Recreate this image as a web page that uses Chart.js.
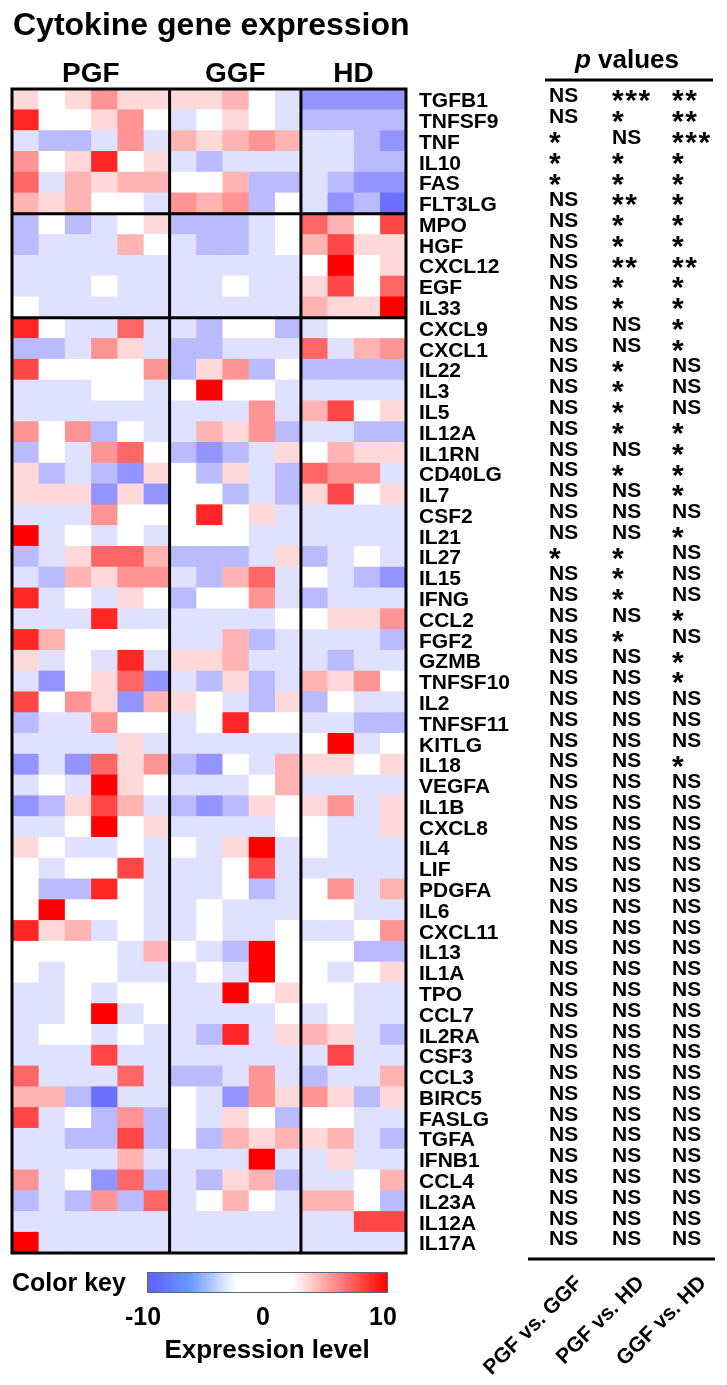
<!DOCTYPE html>
<html>
<head>
<meta charset="utf-8">
<script src="https://cdn.jsdelivr.net/npm/chart.js@4.4.0/dist/chart.umd.min.js"></script>
<style>
  html, body { margin: 0; padding: 0; background: #fff; }
</style>
</head>
<body>
<canvas id="js--chart--heat" width="727" height="1385"></canvas>
<script>
const genes = ['TGFB1','TNFSF9','TNF','IL10','FAS','FLT3LG','MPO','HGF','CXCL12','EGF','IL33',
  'CXCL9','CXCL1','IL22','IL3','IL5','IL12A','IL1RN','CD40LG','IL7','CSF2','IL21','IL27','IL15',
  'IFNG','CCL2','FGF2','GZMB','TNFSF10','IL2','TNFSF11','KITLG','IL18','VEGFA','IL1B','CXCL8',
  'IL4','LIF','PDGFA','IL6','CXCL11','IL13','IL1A','TPO','CCL7','IL2RA','CSF3','CCL3','BIRC5',
  'FASLG','TGFA','IFNB1','CCL4','IL23A','IL12A','IL17A'];

const groups = ['PGF', 'GGF', 'HD'];
const groupSizes = [6, 5, 4];
const rowBlocks = [6, 5]; // thick lines after these many rows

// expression level per sample (PGF: 6 samples)
const pgf = [
  [1.5, 0, 1.5, 4.2, 1.5, 1.5], [8.5, 0, 0, 1.5, 4.2, 0], [-2, -4.5, -4.5, -2, 4.2, -2],
  [4.2, 0, 1.5, 8.5, 0, 1.5], [6, -2, 3, 1.5, 3, 3], [3, 1.5, 3, 0, 0, -2],
  [-4.5, 0, -4.5, -2, 0, 1.5], [-4.5, -2, -2, -2, 3, 0], [-2, -2, -2, -2, -2, -2],
  [-2, -2, -2, 0, -2, -2], [0, -2, -2, -2, -2, -2], [8.5, 0, -2, -2, 6, -2],
  [-4.5, -4.5, -2, 4.2, 1.5, -2], [7.2, 0, 0, 0, 0, 4.2], [-2, -2, -2, 0, 0, -2],
  [-2, -2, -2, -2, -2, -2], [4.2, 0, 4.2, -4.5, 0, -2], [-4.5, 0, -2, 4.2, 6, 0],
  [1.5, -4.5, -2, -4.5, -7, 1.5], [1.5, 1.5, 1.5, -7, 1.5, -7], [-2, -2, -2, 4.2, 0, 0],
  [10, -2, 0, -2, 0, -2], [-4.5, -2, 1.5, 6, 6, 3], [-2, -4.5, 3, 1.5, 4.2, 4.2],
  [8.5, -2, 0, -2, 1.5, 0], [-2, -2, -2, 8.5, -2, -2], [8.5, 3, 0, 0, 0, 0],
  [1.5, -2, 0, -2, 8.5, -2], [-2, -7, 0, 1.5, 6, -7], [7.2, 0, 4.2, 1.5, -7, 3],
  [-4.5, -2, -2, 4.2, 0, 0], [-2, -2, -2, -2, 1.5, -2], [-7, -2, -7, 6, 1.5, 4.2],
  [-2, 0, -2, 10, 1.5, 0], [-7, -4.5, 1.5, 7.2, 3, -2], [-2, -2, 0, 10, 0, 1.5],
  [1.5, 0, -2, -2, 0, -2], [0, -2, 0, 0, 7.2, -2], [0, -4.5, -4.5, 8.5, 0, -2],
  [0, 10, 0, 0, 0, -2], [8.5, 1.5, 3, -2, 0, -2], [0, 0, 0, 0, -2, 3],
  [0, -2, 0, 0, -2, -2], [-2, -2, 0, -2, 0, 0], [-2, -2, 0, 10, -2, 0],
  [-2, 0, 0, -2, 0, -2], [-2, -2, -2, 7.2, -2, -2], [6, -2, -2, -2, 6, -2],
  [3, 3, -4.5, -9.5, -2, -2], [7.2, -2, 0, -4.5, 4.2, -4.5], [-2, -2, -4.5, -4.5, 7.2, -4.5],
  [-2, -2, -2, -2, 3, -2], [4.2, -2, 0, -7, 6, -4.5], [-4.5, -2, -4.5, 4.2, -4.5, 6],
  [-2, -2, -2, -2, -2, -2], [10, -2, -2, -2, -2, -2]
];

// GGF: 5 samples
const ggf = [
  [1.5, 1.5, 3, 0, -2], [-2, 0, 1.5, 0, -2], [3, 1.5, 3, 4.2, 3], [-2, -4.5, -2, -2, -2],
  [0, 0, 3, -4.5, -4.5], [4.2, 3, 4.2, -4.5, 0], [-4.5, -4.5, -4.5, -2, 0], [-2, -4.5, -4.5, -2, 0],
  [-2, -2, -2, -2, -2], [-2, -2, 0, -2, -2], [-2, -2, -2, -2, -2], [-2, -4.5, 0, 0, -4.5],
  [-4.5, -4.5, -2, -2, -2], [-4.5, 1.5, 4.2, -4.5, 0], [0, 10, 0, 0, -2], [-2, -2, -2, 4.2, -2],
  [-2, 3, 1.5, 4.2, -4.5], [-4.5, -7, -4.5, -2, 1.5], [0, -4.5, 1.5, -2, -4.5], [0, 0, -4.5, -2, -4.5],
  [0, 8.5, 0, 1.5, -2], [0, 0, 0, -2, -2], [-4.5, -4.5, -4.5, -2, 1.5], [-2, -4.5, 3, 6, -2],
  [-4.5, 0, 0, 4.2, -2], [-2, -2, -2, -2, 0], [-2, -2, 3, -4.5, -2], [1.5, 1.5, 3, -2, -2],
  [-2, -4.5, 1.5, -4.5, -2], [1.5, 0, -2, -4.5, 1.5], [-2, 0, 8.5, 0, 0], [-2, -2, -2, -2, -2],
  [-4.5, -7, 0, -2, 3], [-2, -2, -2, 0, 3], [-4.5, -7, -4.5, 1.5, 0], [-2, -2, -2, -2, 0],
  [0, -2, 1.5, 10, -2], [-2, -2, 0, 7.2, -2], [-2, -2, 0, -4.5, -2], [-2, 0, -2, -2, -2],
  [-2, 0, -2, -2, 0], [0, -2, -4.5, 10, 0], [-2, 0, -2, 10, 0], [-2, -2, 10, 0, 1.5],
  [-2, -2, -2, -2, 0], [-2, -4.5, 8.5, -2, 1.5], [-2, -2, -2, -2, -2], [-4.5, -4.5, -2, 4.2, -2],
  [0, -2, -7, 4.2, 1.5], [0, -2, 1.5, 0, -4.5], [0, -4.5, 3, 1.5, 3], [-2, -2, -2, 10, -2],
  [-2, -4.5, 1.5, 3, -4.5], [-2, 0, 3, 0, -2], [-2, -2, -2, -2, -2], [-2, -2, -2, -2, -2]
];

// HD: 4 samples
const hd = [
  [-7, -7, -7, -7], [-4.5, -4.5, -4.5, -4.5], [-2, -2, -4.5, -7], [-2, -2, -4.5, -4.5],
  [-2, -4.5, -7, -7], [-2, -7, -4.5, -9.5], [6, 3, 0, 7.2], [3, 7.2, 1.5, 1.5],
  [0, 10, 0, 1.5], [1.5, 7.2, 0, 6], [3, 1.5, 1.5, 10], [-2, 0, 0, 0],
  [6, -2, 3, 4.2], [-4.5, -4.5, -4.5, -4.5], [-2, -2, -2, -2], [3, 7.2, 0, 1.5],
  [-2, -2, -4.5, -4.5], [0, 3, 1.5, 1.5], [6, 4.2, 4.2, -2], [1.5, 7.2, 0, 1.5],
  [-2, -2, -2, -2], [-2, -2, -2, -2], [-4.5, -2, 0, -2], [0, -2, -4.5, -7],
  [-4.5, -2, -2, -2], [0, 1.5, 1.5, 4.2], [-2, -2, -2, -4.5], [-2, -4.5, -2, -2],
  [3, 1.5, 4.2, 0], [-4.5, 0, -2, -2], [-2, -2, -4.5, -4.5], [0, 10, -2, 0],
  [1.5, 1.5, 0, 1.5], [-2, -2, -2, -2], [1.5, 4.2, -2, 1.5], [0, -2, -2, 1.5],
  [0, -2, -2, -2], [-2, -2, -2, -2], [0, 4.2, -2, 3], [0, 0, -2, -2],
  [-2, -2, 0, 4.2], [0, 0, -4.5, -4.5], [0, -2, 0, 1.5], [0, 0, -2, -2],
  [-2, 0, -2, -2], [3, 1.5, -2, -4.5], [-2, 7.2, -2, -2], [-4.5, -2, -2, 3],
  [4.2, 1.5, -4.5, 1.5], [0, 0, -2, -2], [1.5, 3, -2, -4.5], [-2, 1.5, -2, -2],
  [-2, -2, 0, 3], [3, 3, 0, -4.5], [-2, -2, 7.2, 7.2], [-2, -2, -2, -2]
];

const pPgfGgf = [
  'NS','NS','*','*','*','NS','NS','NS','NS','NS',
  'NS','NS','NS','NS','NS','NS','NS','NS','NS','NS',
  'NS','NS','*','NS','NS','NS','NS','NS','NS','NS',
  'NS','NS','NS','NS','NS','NS','NS','NS','NS','NS',
  'NS','NS','NS','NS','NS','NS','NS','NS','NS','NS',
  'NS','NS','NS','NS','NS','NS'
];
const pPgfHd = [
  '***','*','NS','*','*','**','*','*','**','*',
  '*','NS','NS','*','*','*','*','NS','*','NS',
  'NS','NS','*','*','*','NS','*','NS','NS','NS',
  'NS','NS','NS','NS','NS','NS','NS','NS','NS','NS',
  'NS','NS','NS','NS','NS','NS','NS','NS','NS','NS',
  'NS','NS','NS','NS','NS','NS'
];
const pGgfHd = [
  '**','**','***','*','*','*','*','*','**','*',
  '*','*','*','NS','NS','NS','*','*','*','*',
  'NS','*','NS','NS','NS','*','NS','*','*','NS',
  'NS','NS','*','NS','NS','NS','NS','NS','NS','NS',
  'NS','NS','NS','NS','NS','NS','NS','NS','NS','NS',
  'NS','NS','NS','NS','NS','NS'
];
const pColumns = [pPgfGgf, pPgfHd, pGgfHd];
const pHeaders = ['PGF vs. GGF', 'PGF vs. HD', 'GGF vs. HD'];
const keyTicks = [-10, 0, 10];

const FONT = '"Liberation Sans", Arial, sans-serif';

function heatColor(v) {
  if (v >= 0) {
    const g = Math.round(255 - Math.min(v, 10) * 25.5);
    return `rgb(255,${g},${g})`;
  }
  const g = Math.round(255 + Math.max(v, -10) * 15.3);
  return `rgb(${g},${g},255)`;
}

const rows = genes.map((g, i) => pgf[i].concat(ggf[i], hd[i]));
const nCols = groupSizes.reduce((a, b) => a + b, 0);

const datasets = [];
for (let c = 0; c < nCols; c++) {
  datasets.push({
    data: genes.map(() => [c, c + 1]),
    backgroundColor: rows.map(r => heatColor(r[c])),
    borderWidth: 0,
    barPercentage: 1,
    categoryPercentage: 1,
    grouped: false,
  });
}

const decor = {
  id: 'decor',
  afterDraw(chart) {
    const { ctx, chartArea: a, scales: { x, y } } = chart;
    ctx.save();
    ctx.fillStyle = '#000';
    ctx.strokeStyle = '#000';

    // group separators + frame
    ctx.lineWidth = 3;
    let col = 0;
    groupSizes.slice(0, -1).forEach(n => {
      col += n;
      const px = x.getPixelForValue(col);
      ctx.beginPath(); ctx.moveTo(px, a.top); ctx.lineTo(px, a.bottom); ctx.stroke();
    });
    let row = 0;
    rowBlocks.forEach(n => {
      row += n;
      const py = (y.getPixelForValue(row - 1) + y.getPixelForValue(row)) / 2;
      ctx.beginPath(); ctx.moveTo(a.left, py); ctx.lineTo(a.right, py); ctx.stroke();
    });
    ctx.strokeRect(a.left, a.top, a.right - a.left, a.bottom - a.top);

    // title
    ctx.textBaseline = 'alphabetic';
    ctx.textAlign = 'left';
    ctx.font = `bold 32px ${FONT}`;
    ctx.fillText('Cytokine gene expression', 13, 35);

    // group labels
    ctx.textAlign = 'center';
    ctx.font = `bold 28px ${FONT}`;
    col = 0;
    groups.forEach((g, k) => {
      ctx.fillText(g, x.getPixelForValue(col + groupSizes[k] / 2), 82);
      col += groupSizes[k];
    });

    // p values header
    ctx.textAlign = 'left';
    ctx.font = `italic bold 26px ${FONT}`;
    const wp = ctx.measureText('p').width;
    ctx.font = `bold 26px ${FONT}`;
    const wv = ctx.measureText(' values').width;
    const hx = 627 - (wp + wv) / 2;
    ctx.font = `italic bold 26px ${FONT}`;
    ctx.fillText('p', hx, 68);
    ctx.font = `bold 26px ${FONT}`;
    ctx.fillText(' values', hx + wp, 68);
    ctx.beginPath(); ctx.moveTo(545, 80); ctx.lineTo(713, 80); ctx.stroke();
    ctx.beginPath(); ctx.moveTo(528, 1259); ctx.lineTo(715, 1259); ctx.stroke();

    // p values
    const colX = [549, 612, 672];
    ctx.font = `bold 30px ${FONT}`;
    const am = ctx.measureText('*');
    const starShift = (am.actualBoundingBoxAscent - am.actualBoundingBoxDescent) / 2;
    pColumns.forEach((vals, k) => {
      vals.forEach((s, i) => {
        const yc = y.getPixelForValue(i) - 3;
        if (s === 'NS') {
          ctx.font = `bold 21px ${FONT}`;
          ctx.textBaseline = 'middle';
          ctx.fillText(s, colX[k], yc);
        } else {
          ctx.font = `bold 30px ${FONT}`;
          ctx.textBaseline = 'alphabetic';
          for (let j = 0; j < s.length; j++) {
            ctx.fillText('*', colX[k] + j * 13.3, yc + starShift);
          }
        }
      });
    });

    // rotated comparison labels
    ctx.font = `bold 21px ${FONT}`;
    ctx.textAlign = 'right';
    ctx.textBaseline = 'middle';
    pHeaders.forEach((t, k) => {
      ctx.save();
      ctx.translate(579 + k * 62, 1280);
      ctx.rotate(-Math.PI / 4);
      ctx.fillText(t, 0, 0);
      ctx.restore();
    });

    // color key
    ctx.textAlign = 'left';
    ctx.textBaseline = 'alphabetic';
    ctx.font = `bold 25px ${FONT}`;
    ctx.fillText('Color key', 12, 1291);
    const kx0 = 147, kx1 = 388, ky0 = 1272, ky1 = 1293;
    const grad = ctx.createLinearGradient(kx0, 0, kx1, 0);
    grad.addColorStop(0, '#5f5fff');
    grad.addColorStop(0.18, '#6699ff');
    grad.addColorStop(0.37, '#ffffff');
    grad.addColorStop(0.6, '#ffffff');
    grad.addColorStop(1, '#ff0000');
    ctx.fillStyle = grad;
    ctx.fillRect(kx0, ky0, kx1 - kx0, ky1 - ky0);
    ctx.lineWidth = 1;
    ctx.strokeStyle = '#5a6878';
    ctx.strokeRect(kx0 + 0.5, ky0 + 0.5, kx1 - kx0 - 1, ky1 - ky0 - 1);
    ctx.fillStyle = '#000';
    ctx.textAlign = 'center';
    keyTicks.forEach(v => {
      ctx.fillText(String(v), 143 + (v + 10) / 20 * 240, 1325);
    });
    ctx.font = `bold 26px ${FONT}`;
    ctx.fillText('Expression level', 267, 1358);
    ctx.restore();
  }
};

new Chart(document.getElementById('js--chart--heat'), {
  type: 'bar',
  data: { labels: genes, datasets: datasets },
  options: {
    indexAxis: 'y',
    responsive: false,
    animation: false,
    layout: { padding: { left: 12, top: 89, right: 211, bottom: 132 } },
    scales: {
      x: { display: false, min: 0, max: nCols },
      y: {
        position: 'right',
        grid: { display: false, drawTicks: false },
        border: { display: false },
        ticks: {
          autoSkip: false,
          padding: 13,
          labelOffset: 2,
          color: '#000',
          font: { family: FONT, size: 21, weight: 'bold' },
        },
        afterFit(scale) { scale.width = 110; },
      },
    },
    plugins: {
      legend: { display: false },
      tooltip: { enabled: false },
    },
  },
  plugins: [decor],
});
</script>
</body>
</html>
